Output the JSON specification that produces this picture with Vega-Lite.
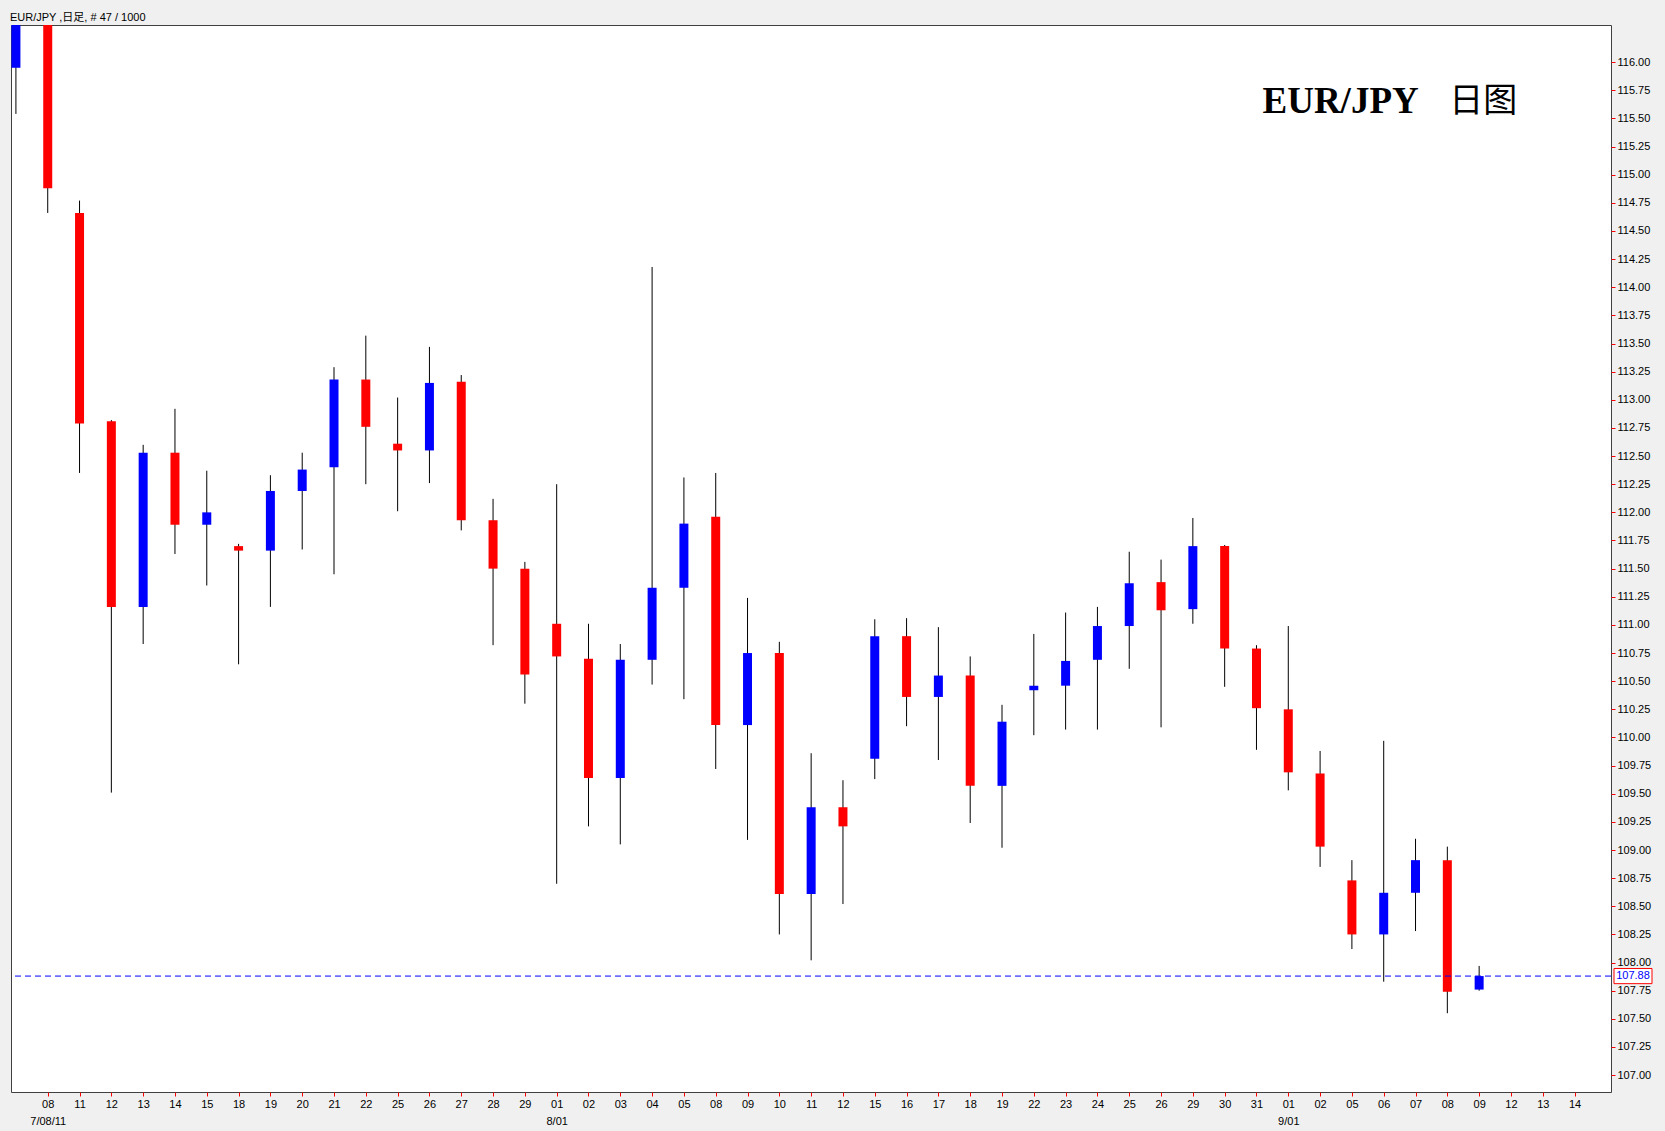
{
  "$schema": "https://vega.github.io/schema/vega-lite/v6.json",
  "autosize": {"type": "none"},
  "width": 1600,
  "height": 1067,
  "padding": {"left": 11, "top": 25, "right": 54, "bottom": 39},
  "background": "#F0F0F0",
  "title": {"text": "EUR/JPY ,日足, # 47 / 1000", "anchor": "start", "frame": "group", "fontSize": 11, "fontWeight": "normal", "font": "Liberation Sans, Noto Sans CJK JP", "color": "#000000", "offset": 2, "dx": -1},
  "config": {"font": "Liberation Sans", "view": {"fill": "#FFFFFF", "stroke": "#404040", "strokeWidth": 1}, "axis": {"labelOverlap": false, "labelSeparation": 0, "labelBound": false, "labelFlush": false}},
  "data": {"values": [
    {"d": "2011-07-07", "o": 115.95, "h": 116.8, "l": 115.54, "c": 116.55},
    {"d": "2011-07-08", "o": 116.55, "h": 116.7, "l": 114.66, "c": 114.88},
    {"d": "2011-07-11", "o": 114.66, "h": 114.77, "l": 112.35, "c": 112.79},
    {"d": "2011-07-12", "o": 112.81, "h": 112.82, "l": 109.51, "c": 111.16},
    {"d": "2011-07-13", "o": 111.16, "h": 112.6, "l": 110.83, "c": 112.53},
    {"d": "2011-07-14", "o": 112.53, "h": 112.92, "l": 111.63, "c": 111.89},
    {"d": "2011-07-15", "o": 111.89, "h": 112.37, "l": 111.35, "c": 112.0},
    {"d": "2011-07-18", "o": 111.7, "h": 111.72, "l": 110.65, "c": 111.66},
    {"d": "2011-07-19", "o": 111.66, "h": 112.33, "l": 111.16, "c": 112.19},
    {"d": "2011-07-20", "o": 112.19, "h": 112.53, "l": 111.67, "c": 112.38},
    {"d": "2011-07-21", "o": 112.4, "h": 113.29, "l": 111.45, "c": 113.18},
    {"d": "2011-07-22", "o": 113.18, "h": 113.57, "l": 112.25, "c": 112.76},
    {"d": "2011-07-25", "o": 112.61, "h": 113.02, "l": 112.01, "c": 112.55},
    {"d": "2011-07-26", "o": 112.55, "h": 113.47, "l": 112.26, "c": 113.15},
    {"d": "2011-07-27", "o": 113.16, "h": 113.22, "l": 111.84, "c": 111.93},
    {"d": "2011-07-28", "o": 111.93, "h": 112.12, "l": 110.82, "c": 111.5},
    {"d": "2011-07-29", "o": 111.5, "h": 111.56, "l": 110.3, "c": 110.56},
    {"d": "2011-08-01", "o": 111.01, "h": 112.25, "l": 108.7, "c": 110.72},
    {"d": "2011-08-02", "o": 110.7, "h": 111.01, "l": 109.21, "c": 109.64},
    {"d": "2011-08-03", "o": 109.64, "h": 110.83, "l": 109.05, "c": 110.69},
    {"d": "2011-08-04", "o": 110.69, "h": 114.18, "l": 110.47, "c": 111.33},
    {"d": "2011-08-05", "o": 111.33, "h": 112.31, "l": 110.34, "c": 111.9},
    {"d": "2011-08-08", "o": 111.96, "h": 112.35, "l": 109.72, "c": 110.11},
    {"d": "2011-08-09", "o": 110.11, "h": 111.24, "l": 109.09, "c": 110.75},
    {"d": "2011-08-10", "o": 110.75, "h": 110.85, "l": 108.25, "c": 108.61},
    {"d": "2011-08-11", "o": 108.61, "h": 109.86, "l": 108.02, "c": 109.38},
    {"d": "2011-08-12", "o": 109.38, "h": 109.62, "l": 108.52, "c": 109.21},
    {"d": "2011-08-15", "o": 109.81, "h": 111.05, "l": 109.63, "c": 110.9},
    {"d": "2011-08-16", "o": 110.9, "h": 111.06, "l": 110.1, "c": 110.36},
    {"d": "2011-08-17", "o": 110.36, "h": 110.98, "l": 109.8, "c": 110.55},
    {"d": "2011-08-18", "o": 110.55, "h": 110.72, "l": 109.24, "c": 109.57},
    {"d": "2011-08-19", "o": 109.57, "h": 110.29, "l": 109.02, "c": 110.14},
    {"d": "2011-08-22", "o": 110.42, "h": 110.92, "l": 110.02, "c": 110.46},
    {"d": "2011-08-23", "o": 110.46, "h": 111.11, "l": 110.07, "c": 110.68},
    {"d": "2011-08-24", "o": 110.69, "h": 111.16, "l": 110.07, "c": 110.99},
    {"d": "2011-08-25", "o": 110.99, "h": 111.65, "l": 110.61, "c": 111.37},
    {"d": "2011-08-26", "o": 111.38, "h": 111.58, "l": 110.09, "c": 111.13},
    {"d": "2011-08-29", "o": 111.14, "h": 111.95, "l": 111.01, "c": 111.7},
    {"d": "2011-08-30", "o": 111.7, "h": 111.71, "l": 110.45, "c": 110.79},
    {"d": "2011-08-31", "o": 110.79, "h": 110.82, "l": 109.89, "c": 110.26},
    {"d": "2011-09-01", "o": 110.25, "h": 110.99, "l": 109.53, "c": 109.69},
    {"d": "2011-09-02", "o": 109.68, "h": 109.88, "l": 108.85, "c": 109.03},
    {"d": "2011-09-05", "o": 108.73, "h": 108.91, "l": 108.12, "c": 108.25},
    {"d": "2011-09-06", "o": 108.25, "h": 109.97, "l": 107.83, "c": 108.62},
    {"d": "2011-09-07", "o": 108.62, "h": 109.1, "l": 108.28, "c": 108.91},
    {"d": "2011-09-08", "o": 108.91, "h": 109.03, "l": 107.55, "c": 107.74},
    {"d": "2011-09-09", "o": 107.76, "h": 107.97, "l": 107.75, "c": 107.88}
  ]},
  "layer": [
    {
      "mark": {"type": "rule", "color": "#000000", "strokeWidth": 1, "clip": true},
      "encoding": {
        "x": {"field": "d", "type": "ordinal",
          "scale": {"type": "point", "padding": 0.65, "align": 0.119, "domain": ["2011-07-07","2011-07-08","2011-07-11","2011-07-12","2011-07-13","2011-07-14","2011-07-15","2011-07-18","2011-07-19","2011-07-20","2011-07-21","2011-07-22","2011-07-25","2011-07-26","2011-07-27","2011-07-28","2011-07-29","2011-08-01","2011-08-02","2011-08-03","2011-08-04","2011-08-05","2011-08-08","2011-08-09","2011-08-10","2011-08-11","2011-08-12","2011-08-15","2011-08-16","2011-08-17","2011-08-18","2011-08-19","2011-08-22","2011-08-23","2011-08-24","2011-08-25","2011-08-26","2011-08-29","2011-08-30","2011-08-31","2011-09-01","2011-09-02","2011-09-05","2011-09-06","2011-09-07","2011-09-08","2011-09-09","2011-09-12","2011-09-13","2011-09-14"]},
          "axis": {"orient": "bottom", "title": null, "values": ["2011-07-08","2011-07-11","2011-07-12","2011-07-13","2011-07-14","2011-07-15","2011-07-18","2011-07-19","2011-07-20","2011-07-21","2011-07-22","2011-07-25","2011-07-26","2011-07-27","2011-07-28","2011-07-29","2011-08-01","2011-08-02","2011-08-03","2011-08-04","2011-08-05","2011-08-08","2011-08-09","2011-08-10","2011-08-11","2011-08-12","2011-08-15","2011-08-16","2011-08-17","2011-08-18","2011-08-19","2011-08-22","2011-08-23","2011-08-24","2011-08-25","2011-08-26","2011-08-29","2011-08-30","2011-08-31","2011-09-01","2011-09-02","2011-09-05","2011-09-06","2011-09-07","2011-09-08","2011-09-09","2011-09-12","2011-09-13","2011-09-14"],
            "labelExpr": "datum.value == '2011-07-08' ? ['08', '7/08/11'] : datum.value == '2011-08-01' ? ['01', '8/01'] : datum.value == '2011-09-01' ? ['01', '9/01'] : slice(datum.value, 8)",
            "labelAngle": 0, "domain": false, "grid": false, "tickColor": "#FF0000", "tickSize": 4, "labelFontSize": 11, "labelColor": "#000000", "labelPadding": 2, "labelLineHeight": 17, "labelOverlap": false, "labelBaseline": "top", "labelFont": "Liberation Sans"}},
        "y": {"field": "l", "type": "quantitative",
          "scale": {"domain": [106.85, 116.33], "nice": false, "zero": false},
          "axis": {"orient": "right", "title": null, "values": [107, 107.25, 107.5, 107.75, 108, 108.25, 108.5, 108.75, 109, 109.25, 109.5, 109.75, 110, 110.25, 110.5, 110.75, 111, 111.25, 111.5, 111.75, 112, 112.25, 112.5, 112.75, 113, 113.25, 113.5, 113.75, 114, 114.25, 114.5, 114.75, 115, 115.25, 115.5, 115.75, 116],
            "format": ".2f", "grid": false, "domain": false, "tickColor": "#FF0000", "tickSize": 4, "labelFontSize": 11, "labelColor": "#000000", "labelPadding": 2, "labelOverlap": false, "labelFont": "Liberation Sans"}},
        "y2": {"field": "h"}
      }
    },
    {
      "mark": {"type": "bar", "width": 9, "clip": true},
      "encoding": {
        "x": {"field": "d", "type": "ordinal"},
        "y": {"field": "o", "type": "quantitative",
          "axis": {"orient": "right", "title": null, "values": [107, 107.25, 107.5, 107.75, 108, 108.25, 108.5, 108.75, 109, 109.25, 109.5, 109.75, 110, 110.25, 110.5, 110.75, 111, 111.25, 111.5, 111.75, 112, 112.25, 112.5, 112.75, 113, 113.25, 113.5, 113.75, 114, 114.25, 114.5, 114.75, 115, 115.25, 115.5, 115.75, 116],
            "format": ".2f", "grid": false, "domain": false, "tickColor": "#FF0000", "tickSize": 4, "labelFontSize": 11, "labelColor": "#000000", "labelPadding": 2, "labelOverlap": false, "labelFont": "Liberation Sans"}},
        "y2": {"field": "c"},
        "color": {"condition": {"test": "datum.c >= datum.o", "value": "#0000FF"}, "value": "#FF0000"}
      }
    },
    {
      "data": {"values": [{"price": 107.88}]},
      "mark": {"type": "rule", "color": "#0000FF", "strokeWidth": 1, "strokeDash": [6, 4]},
      "encoding": {"y": {"field": "price", "type": "quantitative",
          "axis": {"orient": "right", "title": null, "values": [107, 107.25, 107.5, 107.75, 108, 108.25, 108.5, 108.75, 109, 109.25, 109.5, 109.75, 110, 110.25, 110.5, 110.75, 111, 111.25, 111.5, 111.75, 112, 112.25, 112.5, 112.75, 113, 113.25, 113.5, 113.75, 114, 114.25, 114.5, 114.75, 115, 115.25, 115.5, 115.75, 116],
            "format": ".2f", "grid": false, "domain": false, "tickColor": "#FF0000", "tickSize": 4, "labelFontSize": 11, "labelColor": "#000000", "labelPadding": 2, "labelOverlap": false, "labelFont": "Liberation Sans"}}}
    },
    {
      "data": {"values": [{"price": 107.88}]},
      "mark": {"type": "point", "shape": "M-1,-0.4H1V0.4H-1Z", "size": 1444, "filled": true, "fill": "#FFFFFF", "stroke": "#FF0000", "strokeWidth": 1, "opacity": 1, "xOffset": 22},
      "encoding": {"x": {"value": "width"}, "y": {"field": "price", "type": "quantitative",
          "axis": {"orient": "right", "title": null, "values": [107, 107.25, 107.5, 107.75, 108, 108.25, 108.5, 108.75, 109, 109.25, 109.5, 109.75, 110, 110.25, 110.5, 110.75, 111, 111.25, 111.5, 111.75, 112, 112.25, 112.5, 112.75, 113, 113.25, 113.5, 113.75, 114, 114.25, 114.5, 114.75, 115, 115.25, 115.5, 115.75, 116],
            "format": ".2f", "grid": false, "domain": false, "tickColor": "#FF0000", "tickSize": 4, "labelFontSize": 11, "labelColor": "#000000", "labelPadding": 2, "labelOverlap": false, "labelFont": "Liberation Sans"}}}
    },
    {
      "data": {"values": [{"price": 107.88}]},
      "mark": {"type": "text", "color": "#0000FF", "fontSize": 11, "font": "Liberation Sans", "align": "center", "baseline": "middle", "dx": 22},
      "encoding": {"x": {"value": "width"}, "y": {"field": "price", "type": "quantitative",
          "axis": {"orient": "right", "title": null, "values": [107, 107.25, 107.5, 107.75, 108, 108.25, 108.5, 108.75, 109, 109.25, 109.5, 109.75, 110, 110.25, 110.5, 110.75, 111, 111.25, 111.5, 111.75, 112, 112.25, 112.5, 112.75, 113, 113.25, 113.5, 113.75, 114, 114.25, 114.5, 114.75, 115, 115.25, 115.5, 115.75, 116],
            "format": ".2f", "grid": false, "domain": false, "tickColor": "#FF0000", "tickSize": 4, "labelFontSize": 11, "labelColor": "#000000", "labelPadding": 2, "labelOverlap": false, "labelFont": "Liberation Sans"}}, "text": {"field": "price", "format": ".2f"}}
    },
    {
      "data": {"values": [{"t": "EUR/JPY"}]},
      "mark": {"type": "text", "font": "Liberation Serif", "fontWeight": "bold", "fontSize": 37, "color": "#000000", "align": "left", "baseline": "middle", "dx": 6},
      "encoding": {"x": {"datum": "2011-08-31", "type": "ordinal"}, "y": {"datum": 115.65, "type": "quantitative",
          "axis": {"orient": "right", "title": null, "values": [107, 107.25, 107.5, 107.75, 108, 108.25, 108.5, 108.75, 109, 109.25, 109.5, 109.75, 110, 110.25, 110.5, 110.75, 111, 111.25, 111.5, 111.75, 112, 112.25, 112.5, 112.75, 113, 113.25, 113.5, 113.75, 114, 114.25, 114.5, 114.75, 115, 115.25, 115.5, 115.75, 116],
            "format": ".2f", "grid": false, "domain": false, "tickColor": "#FF0000", "tickSize": 4, "labelFontSize": 11, "labelColor": "#000000", "labelPadding": 2, "labelOverlap": false, "labelFont": "Liberation Sans"}}, "text": {"field": "t"}}
    },
    {
      "data": {"values": [{"t": "日图"}]},
      "mark": {"type": "text", "font": "Noto Sans CJK SC", "fontWeight": "normal", "fontSize": 34, "color": "#000000", "align": "left", "baseline": "middle", "dx": 2},
      "encoding": {"x": {"datum": "2011-09-08", "type": "ordinal"}, "y": {"datum": 115.65, "type": "quantitative",
          "axis": {"orient": "right", "title": null, "values": [107, 107.25, 107.5, 107.75, 108, 108.25, 108.5, 108.75, 109, 109.25, 109.5, 109.75, 110, 110.25, 110.5, 110.75, 111, 111.25, 111.5, 111.75, 112, 112.25, 112.5, 112.75, 113, 113.25, 113.5, 113.75, 114, 114.25, 114.5, 114.75, 115, 115.25, 115.5, 115.75, 116],
            "format": ".2f", "grid": false, "domain": false, "tickColor": "#FF0000", "tickSize": 4, "labelFontSize": 11, "labelColor": "#000000", "labelPadding": 2, "labelOverlap": false, "labelFont": "Liberation Sans"}}, "text": {"field": "t"}}
    }
  ]
}
